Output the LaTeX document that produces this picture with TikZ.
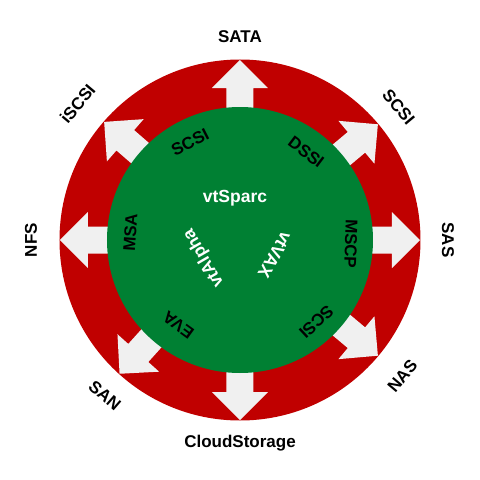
\documentclass[tikz,border=0pt]{standalone}
\usepackage{fontspec}
\setmainfont{Liberation Sans}
\definecolor{ringred}{RGB}{192,0,0}
\definecolor{coregreen}{RGB}{0,128,51}
\definecolor{arrowgray}{RGB}{240,240,240}
\tikzset{
  outlabel/.style={font=\bfseries\fontsize{17}{19}\selectfont, text=black, inner sep=0pt},
  inlabel/.style={font=\bfseries\fontsize{17}{19}\selectfont, text=black, inner sep=0pt},
  corelabel/.style={font=\bfseries\fontsize{17.5}{19}\selectfont, text=white, inner sep=0pt}
}

\begin{document}
\begin{tikzpicture}[x=1pt,y=1pt]
  \useasboundingbox (-240,-240) rectangle (240,240);
  \node[circle, fill=ringred, minimum size=361pt, inner sep=0pt] (ring) at (0,0) {};
  % white arrows pointing out of the core
  \foreach \a in {90,40,0,-40,-90,-132,180,139}
    \fill[arrowgray, rotate=\a] (100,-13.5) -- (152,-13.5) -- (152,-28) -- (180,0) -- (152,28) -- (152,13.5) -- (100,13.5) -- cycle;
  \node[circle, fill=coregreen, minimum size=266pt, inner sep=0pt] (core) at (0,0) {};
  % outer labels: angle / radius / rotation / text / name
  \foreach \a/\r/\t/\txt/\n in {90/203/0/SATA/sata, 40/207/-50/SCSI/scsiout, 0/208/-90/SAS/sas, -40/212/50/NAS/nas,
      -90/203/0/CloudStorage/cloud, -131/206/-41/SAN/san, 180/209/90/NFS/nfs, 140/212/50/iSCSI/iscsi}
    \node[outlabel, rotate=\t] (\n) at (\a:\r) {\txt};
  % labels just inside the core
  \foreach \a/\r/\txt/\n in {117/110/SCSI/scsiin, 53/110/DSSI/dssi, -2/111/MSCP/mscp,
      -47/112/SCSI/scsilow, -126/105/EVA/eva, 176/110/MSA/msa}
    \node[inlabel, rotate=\a-90] (\n) at (\a:\r) {\txt};
  \node[corelabel] (sparc) at (-5,42) {vtSparc};
  \node[corelabel, rotate=120] (alpha) at (-36,-18) {vtAlpha};
  \node[corelabel, rotate=240] (vax) at (35,-15) {vtVAX};
\end{tikzpicture}
\end{document}
